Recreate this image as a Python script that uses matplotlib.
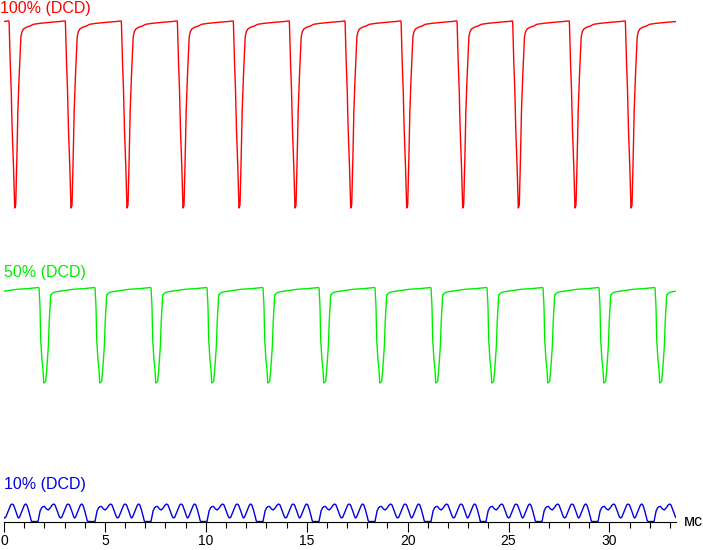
import numpy as np
import matplotlib
matplotlib.use("Agg")
import matplotlib.pyplot as plt
from matplotlib.ticker import MultipleLocator

plt.rcParams['font.family'] = ['Liberation Sans', 'DejaVu Sans']

# pulse times (ms)
red_pulses = [-2.255, 0.530, 3.320, 6.095, 8.870, 11.645, 14.420, 17.180,
              19.955, 22.730, 25.485, 28.295, 31.070]
green_pulses = [-0.743, 2.032, 4.807, 7.582, 10.357, 13.132, 15.907, 18.682,
                21.457, 24.232, 27.007, 29.782, 32.557]
blue_pulses = [-1.388, 1.388, 4.212, 6.987, 9.762, 12.537, 15.312, 18.087,
               20.862, 23.588, 26.363, 29.138, 31.913]

# one period of each trace: time offset from the pulse (ms) and level
red_dt = [-0.287, -0.273, -0.223, -0.173, -0.124, -0.059, 0.0, 0.050, 0.109,
          0.159, 0.223, 0.273, 0.307, 0.357, 0.436, 0.605, 0.768, 0.917,
          1.264, 1.759, 2.255, 2.428]
red_lvl = [501, 497, 460, 432, 392, 355, 314, 317, 365, 412, 447, 469, 485,
           490, 493, 495, 496, 497.7, 498.7, 499.7, 500.5, 501]

green_dt = [-0.332, -0.297, -0.248, -0.213, -0.149, -0.099, -0.064, 0.0, 0.035,
            0.084, 0.164, 0.213, 0.282, 0.411, 0.580, 0.907, 1.402, 1.982,
            2.438]
green_lvl = [234.5, 234, 215.3, 182, 162, 152, 139, 140, 141, 152, 175, 202,
             227, 229.3, 230.3, 231.3, 232.7, 233.5, 234.5]

blue_dt = [0.0, 0.297, 0.35, 0.40, 0.47, 0.55, 0.62, 0.72, 0.80, 0.90, 1.00,
           1.07, 1.14, 1.25, 1.36, 1.42, 1.48, 1.60, 1.72, 1.79, 1.86, 1.97,
           2.07, 2.11, 2.16, 2.28, 2.40, 2.46, 2.52, 2.60, 2.68, 2.74]
blue_lvl = [0.5, 0.5, 6, 11, 14, 15.5, 15.5, 13, 12, 14, 17, 18, 17, 11, 5,
            4, 5, 11, 17, 18, 17, 11, 5, 4, 5, 11, 17, 18, 17, 12, 6, 1]


def build(pulses, dt, lvl):
    t = np.concatenate([p + np.array(dt) for p in pulses])
    y = np.tile(lvl, len(pulses))
    return t, y


fig = plt.figure(figsize=(7.03, 5.5), dpi=100)
ax = fig.add_axes([4 / 703, 28 / 550, 672 / 703, 522 / 550])

for pulses, dt, lvl, col in [(red_pulses, red_dt, red_lvl, '#ff0000'),
                             (green_pulses, green_dt, green_lvl, '#00ee00'),
                             (blue_pulses, blue_dt, blue_lvl, '#0000e0')]:
    t, y = build(pulses, dt, lvl)
    ax.plot(t, y, color=col, lw=1.0, zorder=3, clip_on=True)

ax.set_xlim(0, 33.3)
ax.set_ylim(0, 522)

for s in ['left', 'right', 'top']:
    ax.spines[s].set_visible(False)
ax.spines['bottom'].set_linewidth(0.8)
ax.set_yticks([])
ax.xaxis.set_major_locator(MultipleLocator(5))
ax.xaxis.set_minor_locator(MultipleLocator(1))
ax.tick_params(axis='x', which='major', length=7.5, width=0.8, labelsize=10, pad=1)
ax.tick_params(axis='x', which='minor', length=4.5, width=0.8)

fig.text(0 / 703, 1 - 1 / 550, '100% (DCD)', color='#ff0000', fontsize=11.5,
         ha='left', va='top')
fig.text(4 / 703, 1 - 265 / 550, '50% (DCD)', color='#00ee00', fontsize=11.5,
         ha='left', va='top')
fig.text(4 / 703, 1 - 477 / 550, '10% (DCD)', color='#0000e0', fontsize=11.5,
         ha='left', va='top')
fig.text(684 / 703, 1 - 522 / 550, 'мс', color='black', fontsize=11.5,
         ha='left', va='center')

fig.savefig('out.png', dpi=100)
